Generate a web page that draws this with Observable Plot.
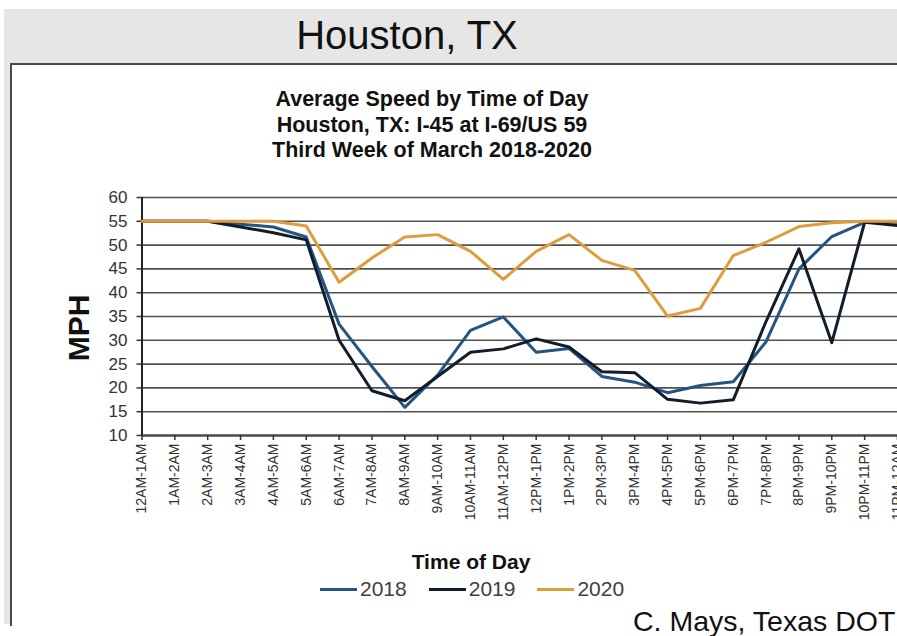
<!DOCTYPE html>
<html>
<head>
<meta charset="utf-8">
<script src="https://cdn.jsdelivr.net/npm/d3@7"></script>
<script src="https://cdn.jsdelivr.net/npm/@observablehq/plot@0.6"></script>
<style>
  html, body { margin: 0; padding: 0; background: #fff; overflow: hidden; }
  #page { position: relative; width: 897px; height: 636px; overflow: hidden; font-family: "Liberation Sans", Arial, sans-serif; }
  #band { position: absolute; left: 4px; top: 9px; width: 900px; height: 615px; background: #e6e6e6; }
  #panel { position: absolute; left: 10px; top: 63px; width: 900px; height: 561px; background: #fff; border-left: 2px solid #4a4a4a; border-top: 2px solid #4a4a4a; }
  #header { position: absolute; left: 207px; width: 400px; top: 16px; text-align: center; font-size: 40px; line-height: 39px; color: #111; }
  #title { position: absolute; left: 182px; width: 500px; top: 87px; text-align: center; font-weight: bold; font-size: 21.5px; line-height: 25.5px; color: #111; }
  #chart { position: absolute; left: 0; top: 180px; width: 920px; height: 360px; }
  #chart svg { max-width: none !important; }
  #ylab { position: absolute; left: 29px; top: 313px; width: 100px; height: 30px; line-height: 30px; text-align: center; font-weight: bold; font-size: 30px; color: #111; transform: rotate(-90deg); }
  #xlab { position: absolute; left: 371px; width: 200px; top: 551px; text-align: center; font-weight: bold; font-size: 21px; line-height: 21px; color: #111; }
  #legend { position: absolute; left: 320px; top: 577px; height: 24px; display: flex; align-items: center; gap: 22px; font-size: 21px; color: #404040; }
  #legend .item { display: flex; align-items: center; gap: 3px; }
  #legend .sw { display: inline-block; width: 37px; height: 3px; }
  #caption { position: absolute; left: 633px; top: 607px; font-size: 28.5px; line-height: 29px; color: #111; white-space: nowrap; }
</style>
</head>
<body>
<div id="page">
  <div id="band"></div>
  <div id="panel"></div>
  <div id="header">Houston, TX</div>
  <div id="title">Average Speed by Time of Day<br>Houston, TX: I-45 at I-69/US 59<br>Third Week of March 2018-2020</div>
  <div id="chart"></div>
  <div id="ylab">MPH</div>
  <div id="xlab">Time of Day</div>
  <div id="legend"></div>
  <div id="caption">C. Mays, Texas DOT</div>
</div>
<script>
const times = ["12AM-1AM","1AM-2AM","2AM-3AM","3AM-4AM","4AM-5AM","5AM-6AM","6AM-7AM","7AM-8AM","8AM-9AM","9AM-10AM","10AM-11AM","11AM-12PM","12PM-1PM","1PM-2PM","2PM-3PM","3PM-4PM","4PM-5PM","5PM-6PM","6PM-7PM","7PM-8PM","8PM-9PM","9PM-10PM","10PM-11PM","11PM-12AM"];
const years = ["2018", "2019", "2020"];
const speed2018 = [55, 55, 55, 54.4, 53.8, 51.7, 33.4, 24.5, 15.9, 22.7, 32.1, 34.9, 27.5, 28.3, 22.4, 21.2, 19.0, 20.5, 21.3, 29.7, 45.0, 51.8, 54.8, 54.8];
const speed2019 = [55, 55, 55, 53.8, 52.6, 51.1, 30.0, 19.4, 17.3, 22.4, 27.5, 28.2, 30.3, 28.6, 23.4, 23.2, 17.6, 16.8, 17.5, 34.0, 49.2, 29.5, 54.8, 54.1];
const speed2020 = [55, 55, 55, 55, 55, 54.0, 42.2, 47.3, 51.7, 52.2, 48.7, 42.8, 48.7, 52.2, 46.8, 44.7, 35.1, 36.7, 47.8, 50.6, 53.9, 54.7, 55, 55];
const yTicks = [10, 15, 20, 25, 30, 35, 40, 45, 50, 55, 60];
const colors = ["#255480", "#121d2c", "#e09c3c"];

const series = [speed2018, speed2019, speed2020];
const data = years.flatMap((yr, k) => times.map((t, i) => ({time: t, year: yr, mph: series[k][i]})));

const chart = Plot.plot({
  width: 920,
  height: 360,
  marginLeft: 141.5,
  marginRight: 23,
  marginTop: 17,
  marginBottom: 105,
  style: {background: "transparent", fontFamily: "'Liberation Sans', Arial, sans-serif", color: "#333", overflow: "visible", maxWidth: "none"},
  x: {type: "point", domain: times, padding: 0, round: false},
  y: {domain: [10, 60]},
  color: {domain: years, range: colors},
  marks: [
    Plot.gridY(yTicks, {stroke: "#505050", strokeOpacity: 1, strokeWidth: 1.6}),
    Plot.ruleY([10], {stroke: "#505050", strokeWidth: 2.5}),
    Plot.ruleX([times[0]], {stroke: "#222", strokeWidth: 2}),
    Plot.axisY(yTicks, {tickSize: 5, tickPadding: 9.5, fontSize: 17, label: null, color: "#333", strokeWidth: 1.5}),
    Plot.axisX({tickSize: 5, tickPadding: 3, tickRotate: -90, fontSize: 14, label: null, color: "#333", strokeWidth: 1.5}),
    Plot.line(data, {x: "time", y: "mph", z: "year", stroke: "year", strokeWidth: 3})
  ]
});
document.getElementById("chart").appendChild(chart);

const legend = document.getElementById("legend");
years.forEach((yr, k) => {
  const item = document.createElement("div");
  item.className = "item";
  const sw = document.createElement("span");
  sw.className = "sw";
  sw.style.background = colors[k];
  const lab = document.createElement("span");
  lab.textContent = yr;
  item.appendChild(sw);
  item.appendChild(lab);
  legend.appendChild(item);
});
</script>
</body>
</html>
